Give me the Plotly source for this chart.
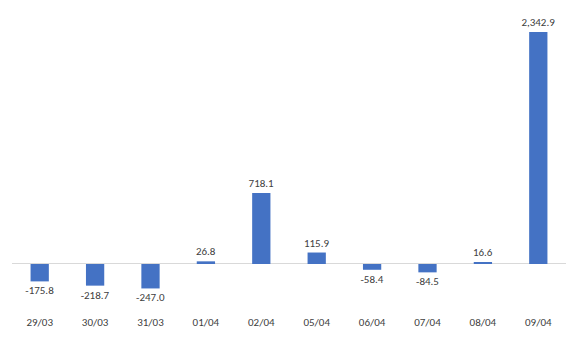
import plotly.graph_objects as go

categories = ["29/03", "30/03", "31/03", "01/04", "02/04", "05/04", "06/04", "07/04", "08/04", "09/04"]
values = [-175.8, -218.7, -247.0, 26.8, 718.1, 115.9, -58.4, -84.5, 16.6, 2342.9]

fnt = "Calibri, Carlito, Lato, sans-serif"
fig = go.Figure(go.Bar(
    x=categories, y=values,
    marker=dict(color="#4472C4", line=dict(width=0)),
    texttemplate="%{y:,.1f}", textposition="outside", constraintext="none",
    textfont=dict(family=fnt, size=11, color="#404040"),
    cliponaxis=False,
))
fig.update_layout(
    width=573, height=348,
    margin=dict(l=12, r=7, t=20, b=34),
    plot_bgcolor="white", paper_bgcolor="white",
    bargap=0.67, showlegend=False,
    uniformtext=dict(minsize=11, mode="show"),
    xaxis=dict(showline=False, showgrid=False, ticks="",
               tickfont=dict(family=fnt, size=11, color="#404040")),
    yaxis=dict(range=[-505, 2464], showgrid=False, showticklabels=False, ticks="",
               zeroline=True, zerolinecolor="#D9D9D9", zerolinewidth=1, showline=False),
)
fig.write_html("out.html")
